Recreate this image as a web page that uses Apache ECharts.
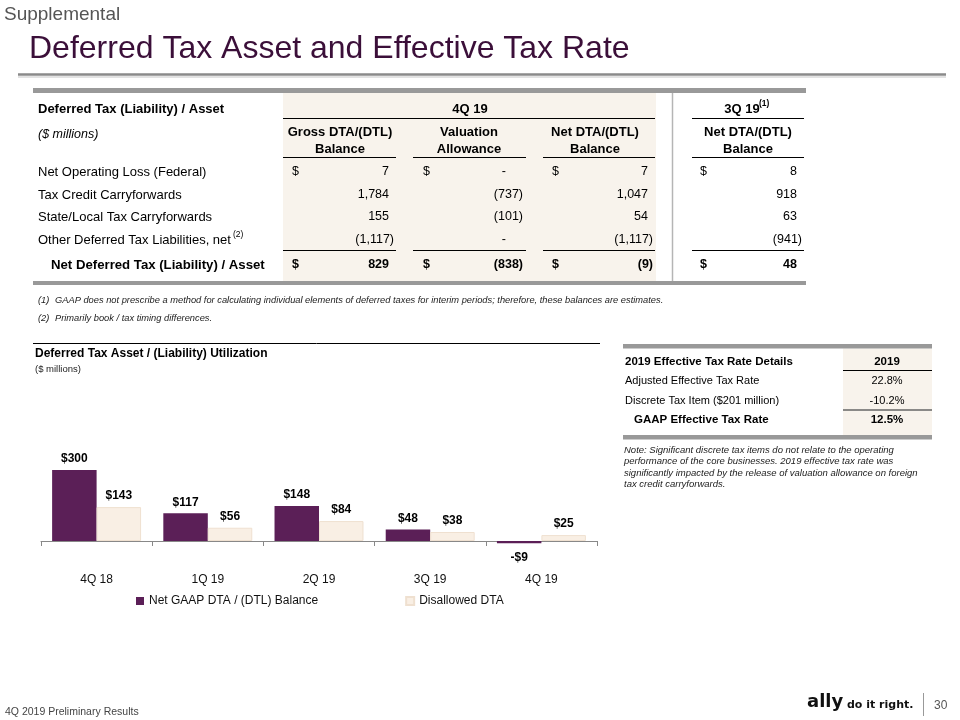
<!DOCTYPE html>
<html><head><meta charset="utf-8">
<script src="https://cdn.jsdelivr.net/npm/echarts@6/dist/echarts.min.js"></script>
<style>html,body{margin:0;padding:0;background:#fff}#c{width:960px;height:720px}</style>
</head><body><div id="c"></div>
<script>
// ---- Chart data ----
const categories = ['4Q 18', '1Q 19', '2Q 19', '3Q 19', '4Q 19'];
const seriesNames = ['Net GAAP DTA / (DTL) Balance', 'Disallowed DTA'];
const netGaapBalance = [300, 117, 148, 48, -9];
const disallowedDTA = [143, 56, 84, 38, 25];

// ---- Deferred tax table ----
const dtRowLabels = ['Net Operating Loss (Federal)', 'Tax Credit Carryforwards', 'State/Local Tax Carryforwards', 'Other Deferred Tax Liabilities, net'];
const dtRowSup = ['', '', '', '(2)'];
const dtTotalLabel = 'Net Deferred Tax (Liability) / Asset';
const grossBalance = ['7', '1,784', '155', '(1,117)', '829'];
const valuationAllowance = ['-', '(737)', '(101)', '-', '(838)'];
const netBalance4Q = ['7', '1,047', '54', '(1,117)', '(9)'];
const netBalance3Q = ['8', '918', '63', '(941)', '48'];

// ---- Effective tax rate table ----
const etrLabels = ['Adjusted Effective Tax Rate', 'Discrete Tax Item ($201 million)'];
const etrValues = ['22.8%', '-10.2%'];
const etrTotalLabel = 'GAAP Effective Tax Rate';
const etrTotal = '12.5%';

const FONT = '"Liberation Sans", Arial, Helvetica, sans-serif';
const PURPLE = '#5b1f57';
const BEIGE = '#f8f3ec';
const g = [];
function T(text, x, y, size, opts) {
  opts = opts || {};
  g.push({type: 'text', z: 10, style: {
    text: text, x: x, y: y,
    font: (opts.italic ? 'italic ' : '') + (opts.bold ? 'bold ' : '') + size + 'px ' + (opts.family || FONT),
    fill: opts.color || '#000',
    textAlign: opts.align || 'left', textVerticalAlign: 'middle'
  }});
}
function L(x1, y1, x2, y2, color, w) {
  g.push({type: 'line', z: 5, shape: {x1: x1, y1: y1, x2: x2, y2: y2}, style: {stroke: color, lineWidth: w}});
}
function R(x, y, w, h, color, z) {
  g.push({type: 'rect', z: z || 1, shape: {x: x, y: y, width: w, height: h}, style: {fill: color}});
}

// Header
T('Supplemental', 4, 15, 19, {color: '#555'});
T('Deferred Tax Asset and Effective Tax Rate', 29, 49, 32, {color: '#3b0f39'});
L(18, 74.5, 946, 74.5, '#8a8a8a', 2.5);
L(18, 77, 946, 77, '#d8d8d8', 1.5);

// Deferred tax table
R(33, 88, 773, 5, '#999', 2);
R(283, 93, 373, 188, BEIGE, 1);
R(33, 281, 773, 4, '#999', 2);
L(672.5, 93, 672.5, 281, '#b5b5b5', 1.5);
T('Deferred Tax (Liability) / Asset', 38, 109, 13, {bold: true});
T('($ millions)', 38, 135, 12.5, {italic: true});
T('4Q 19', 470, 109, 13, {bold: true, align: 'center'});
T('3Q 19', 742, 109, 13, {bold: true, align: 'center'});
T('(1)', 759, 104, 8.5, {bold: true});
L(283, 118.5, 655, 118.5, '#000', 1);
L(692, 118.5, 804, 118.5, '#000', 1);
const cols = [
  {c: 340, x1: 283, x2: 396, dollar: 292, right: 389, head: ['Gross DTA/(DTL)', 'Balance'], vals: grossBalance},
  {c: 469, x1: 413, x2: 526, dollar: 423, right: 518, head: ['Valuation', 'Allowance'], vals: valuationAllowance},
  {c: 595, x1: 543, x2: 655, dollar: 552, right: 648, head: ['Net DTA/(DTL)', 'Balance'], vals: netBalance4Q},
  {c: 748, x1: 692, x2: 804, dollar: 700, right: 797, head: ['Net DTA/(DTL)', 'Balance'], vals: netBalance3Q}
];
const rowY = [172, 195, 217, 240, 265];
cols.forEach(function (col) {
  T(col.head[0], col.c, 132, 13, {bold: true, align: 'center'});
  T(col.head[1], col.c, 149, 13, {bold: true, align: 'center'});
  L(col.x1, 157.5, col.x2, 157.5, '#000', 1);
  L(col.x1, 250.5, col.x2, 250.5, '#000', 1);
  col.vals.forEach(function (v, i) {
    const bold = i === 4;
    const paren = v.charAt(v.length - 1) === ')';
    const x = v === '-' ? col.right - 12 : (paren ? col.right + 5 : col.right);
    T(v, x, rowY[i], 12.5, {bold: bold, align: 'right'});
    if (i === 0 || i === 4) T('$', col.dollar, rowY[i], 12.5, {bold: bold});
  });
});
dtRowLabels.forEach(function (lab, i) {
  T(lab, 38, rowY[i], 13);
  if (dtRowSup[i]) T(dtRowSup[i], 233, rowY[i] - 5, 8.5);
});
T(dtTotalLabel, 51, rowY[4], 13.2, {bold: true});
T('(1)', 38, 300, 9.3, {italic: true, color: '#222'});
T('GAAP does not prescribe a method for calculating individual elements of deferred taxes for interim periods; therefore, these balances are estimates.', 55, 300, 9.3, {italic: true, color: '#222'});
T('(2)', 38, 318, 9.3, {italic: true, color: '#222'});
T('Primarily book / tax timing differences.', 55, 318, 9.3, {italic: true, color: '#222'});

// Chart section header
L(33, 343.5, 600, 343.5, '#000', 1);
T('Deferred Tax Asset / (Liability) Utilization', 35, 354, 12, {bold: true});
T('($ millions)', 35, 369, 9.5, {color: '#222'});

// Effective tax rate table
R(623, 344, 309, 4.5, '#999', 2);
R(843, 348.5, 89, 86.5, BEIGE, 1);
R(623, 435, 309, 4.5, '#999', 2);
T('2019 Effective Tax Rate Details', 625, 362, 11.5, {bold: true});
T('2019', 887, 362, 11.5, {bold: true, align: 'center'});
L(843, 370.5, 932, 370.5, '#000', 1);
etrLabels.forEach(function (lab, i) {
  T(lab, 625, 381 + i * 20, 11);
  T(etrValues[i], 887, 381 + i * 20, 11, {align: 'center'});
});
L(843, 410, 932, 410, '#666', 1.5);
T(etrTotalLabel, 634, 420, 11.5, {bold: true});
T(etrTotal, 887, 420, 11.5, {bold: true, align: 'center'});
['Note: Significant discrete tax items do not relate to the operating',
 'performance of the core businesses. 2019 effective tax rate was',
 'significantly impacted by the release of valuation allowance on foreign',
 'tax credit carryforwards.'].forEach(function (s, i) {
  T(s, 624, 450 + i * 11.5, 9.5, {italic: true, color: '#222'});
});

// Footer
T('4Q 2019 Preliminary Results', 5, 712, 10.5, {color: '#444'});
T('ally', 807, 702, 18, {bold: true, color: '#111', family: '"DejaVu Sans", sans-serif'});
T('do it right.', 847, 705, 11, {bold: true, color: '#111', family: '"DejaVu Sans", sans-serif'});
L(923.5, 693, 923.5, 716, '#999', 1);
T('30', 934, 706, 12, {color: '#555'});

const chart = echarts.init(document.getElementById('c'), null, {renderer: 'canvas'});
const money = function (p) { return p.value < 0 ? '-$' + Math.abs(p.value) : '$' + p.value; };
chart.setOption({
  animation: false,
  backgroundColor: '#fff',
  textStyle: {fontFamily: FONT},
  grid: {left: 41, right: 363, top: 422.5, bottom: 155.3},
  legend: {
    left: 136, top: 595, padding: 0, itemWidth: 8, itemHeight: 8, itemGap: 87,
    icon: 'rect',
    textStyle: {fontSize: 12, color: '#111', fontFamily: FONT},
    data: seriesNames
  },
  xAxis: {
    type: 'category', data: categories,
    axisLine: {onZero: true, lineStyle: {color: '#888', width: 1}},
    axisTick: {show: true, length: 5, lineStyle: {color: '#888'}},
    axisLabel: {fontSize: 12, color: '#111', margin: 9, fontFamily: FONT}
  },
  yAxis: {type: 'value', min: -100, max: 500, show: false, splitLine: {show: false}},
  graphic: {elements: g},
  series: [
    {name: seriesNames[0], type: 'bar', barGap: '0%', barCategoryGap: '20%',
     data: netGaapBalance.map(function (v) {
       return v < 0 ? {value: v, label: {position: 'bottom', distance: 9}} : v;
     }),
     itemStyle: {color: PURPLE},
     label: {show: true, position: 'top', distance: 5, formatter: money, fontSize: 12, fontWeight: 'bold', color: '#000', fontFamily: FONT}},
    {name: seriesNames[1], type: 'bar', data: disallowedDTA,
     itemStyle: {color: '#f9efe4', borderColor: '#efe0d0', borderWidth: 1},
     label: {show: true, position: 'top', distance: 5, formatter: money, fontSize: 12, fontWeight: 'bold', color: '#000', fontFamily: FONT}}
  ]
});
</script></body></html>
